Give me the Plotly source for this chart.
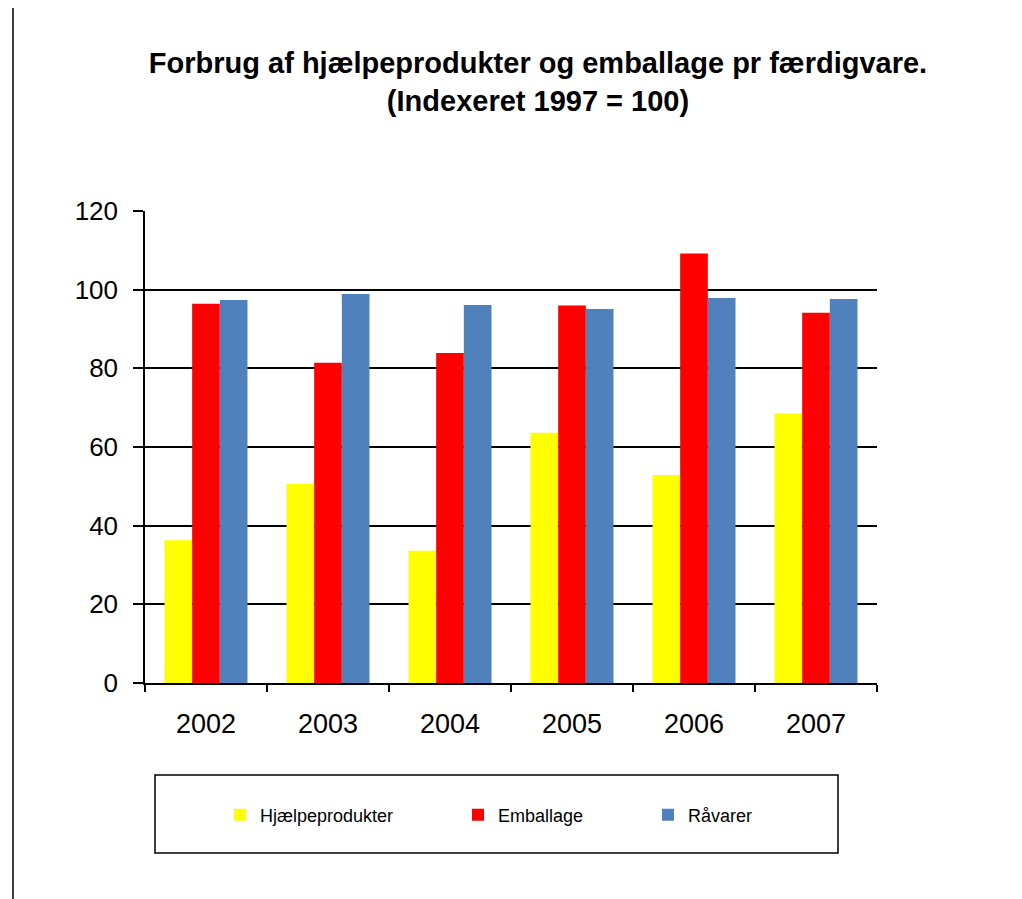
import plotly.graph_objects as go

years = ["2002", "2003", "2004", "2005", "2006", "2007"]
hjaelpeprodukter = [36.3, 50.6, 33.6, 63.6, 52.9, 68.5]
emballage = [96.4, 81.4, 83.9, 96.0, 109.2, 94.1]
raavarer = [97.4, 98.9, 96.1, 95.1, 97.9, 97.6]
y_ticks = [0, 20, 40, 60, 80, 100, 120]

OFF = 8  # page body margin
W, H = 1022, 899
L, R, T, B = 145 - OFF, 145 + OFF, 211 - OFF, 216 + OFF
pw, ph = W - L - R, H - T - B

def px(x):
    return (x - OFF - L) / pw

def py(y):
    return (H - B - (y - OFF)) / ph

font = "Liberation Sans, Arial, sans-serif"

fig = go.Figure()
series = [
    ("Hjælpeprodukter", hjaelpeprodukter, "#FFFF00", "legend", 220),
    ("Emballage", emballage, "#FF0000", "legend2", 458),
    ("Råvarer", raavarer, "#4F81BD", "legend3", 648),
]
for name, vals, col, lg, _ in series:
    fig.add_trace(go.Bar(x=years, y=vals, name=name, marker=dict(color=col, line=dict(width=0)),
                         legend=lg))

leg_common = dict(xref="container", yref="container", yanchor="middle", xanchor="left",
                  orientation="h", bgcolor="rgba(0,0,0,0)",
                  font=dict(family=font, size=18, color="black"))
layout_legends = {}
for name, vals, col, lg, xpos in series:
    layout_legends[lg] = dict(x=(xpos - OFF) / W, y=1 - (815 - OFF) / H, **leg_common)

fig.update_layout(
    width=W, height=H,
    margin=dict(l=L, r=R, t=T, b=B),
    paper_bgcolor="white", plot_bgcolor="white",
    font=dict(family=font, color="black"),
    barmode="group", bargap=0.32, bargroupgap=0,
    showlegend=True,
    title=dict(text="<b>Forbrug af hjælpeprodukter og emballage pr færdigvare.<br>(Indexeret 1997 = 100)</b>",
               x=(538 - OFF) / W, xanchor="center", xref="container",
               y=1 - (73 - OFF) / H, yanchor="top", yref="container",
               font=dict(family=font, size=29, color="black")),
    xaxis=dict(showline=True, linecolor="black", linewidth=1.5, ticks="outside", tickson="boundaries",
               ticklen=7, tickcolor="black", tickwidth=1.5, showgrid=False,
               tickfont=dict(size=27, family=font, color="black"), ticklabelstandoff=16),
    yaxis=dict(range=[0, 120], tickvals=y_ticks, showline=True, linecolor="black", linewidth=1.5,
               ticks="outside", ticklen=10, tickcolor="black", tickwidth=1.5,
               showgrid=True, gridcolor="black", gridwidth=1.5, zeroline=False,
               tickfont=dict(size=26, family=font, color="black"), ticklabelstandoff=10),
    shapes=[
        dict(type="rect", xref="paper", yref="paper", x0=px(155), x1=px(838), y0=py(853), y1=py(775),
             line=dict(color="black", width=1.5), fillcolor="rgba(0,0,0,0)", layer="below"),
        dict(type="line", xref="paper", yref="paper", x0=px(13), x1=px(13), y0=py(8), y1=py(899),
             line=dict(color="black", width=1.5)),
    ],
    **layout_legends,
)

fig.write_html("out.html")
